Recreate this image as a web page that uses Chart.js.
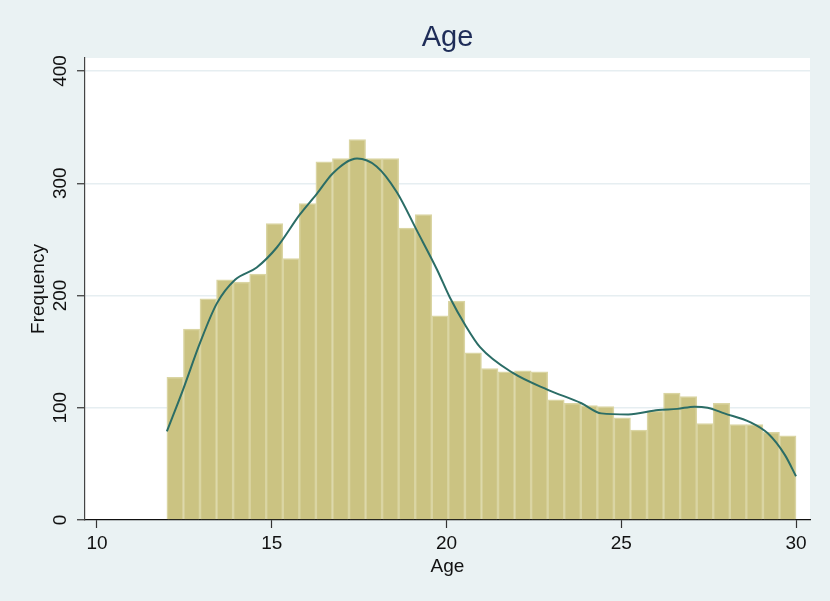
<!DOCTYPE html>
<html>
<head>
<meta charset="utf-8">
<script src="https://cdn.jsdelivr.net/npm/chart.js@4/dist/chart.umd.min.js"></script>
<style>
  html, body { margin: 0; padding: 0; background: #EAF2F3; }
  #wrap { width: 830px; height: 601px; }
</style>
</head>
<body>
<div id="wrap"><canvas id="c" width="830" height="601"></canvas></div>
<script>
// ---- data ----
const chartTitle = "Age";
const xTitle = "Age";
const yTitle = "Frequency";
const binStart = 12;
const binEnd = 30;
const binCount = 38;
const frequencies = [127,170,197,214,212,219,264,233,282,319,322,339,322,322,260,272,182,195,149,135,132,133,132,107,104,102,101,91,80,97,113,110,86,104,85,85,78,75];
const densityAge = [12.0,12.46,12.95,13.43,13.95,14.57,15.15,15.8,16.3,16.75,17.44,18.0,18.58,19.15,19.73,20.1,20.53,20.96,21.9,22.9,23.86,24.43,25.2,26.06,26.6,27.1,27.47,27.95,28.7,29.2,29.68,30.0];
const densityFreq = [79,116,158,193,214,225,243,272,291,309,322,315,292,258,223,198,174,154,131,116,104,95,94,98,99,101,100,95,87,77,58,39];
const xTicks = [10,15,20,25,30];
const yTicks = [0,100,200,300,400];

const binWidth = (binEnd - binStart) / binCount;
const barPoints = frequencies.map((v, i) => ({ x: binStart + (i + 0.5) * binWidth, y: v }));
const linePoints = densityAge.map((a, i) => ({ x: a, y: densityFreq[i] }));

const FONT = "'Liberation Sans', Arial, Helvetica, sans-serif";
const X_MIN = 9.657, X_MAX = 30.40;

const bgPlugin = {
  id: 'bg',
  beforeDraw(chart) {
    const { ctx, chartArea } = chart;
    ctx.save();
    ctx.fillStyle = '#EAF2F3';
    ctx.fillRect(0, 0, chart.width, chart.height);
    ctx.fillStyle = '#FFFFFF';
    ctx.fillRect(chartArea.left, chartArea.top, chartArea.right - chartArea.left, chartArea.bottom - chartArea.top);
    ctx.restore();
  }
};

new Chart(document.getElementById('c'), {
  type: 'bar',
  data: {
    datasets: [
      {
        type: 'line',
        data: linePoints,
        borderColor: '#2B6D66',
        borderWidth: 2,
        pointRadius: 0,
        cubicInterpolationMode: 'monotone',
        fill: false,
        order: 0
      },
      {
        type: 'bar',
        data: barPoints,
        backgroundColor: '#CBC382',
        borderColor: '#DAD5A3',
        borderWidth: 1.5,
        barPercentage: 1,
        categoryPercentage: 1,
        grouped: false,
        order: 1
      }
    ]
  },
  options: {
    responsive: false,
    animation: false,
    layout: { padding: { left: 0, right: 20, top: 0, bottom: 0 } },
    plugins: {
      legend: { display: false },
      tooltip: { enabled: false },
      title: { display: false }
    },
    scales: {
      x: {
        type: 'linear',
        offset: false,
        min: X_MIN,
        max: X_MAX,
        afterBuildTicks: (s) => { s.ticks = xTicks.map(v => ({ value: v })); },
        afterFit: (s) => { s.height = 81; },
        border: { display: true, color: '#111111', width: 1.2 },
        grid: { display: true, drawOnChartArea: false, offset: false, tickLength: 8, tickColor: '#333333', tickWidth: 1.2 },
        ticks: { color: '#111111', font: { family: FONT, size: 19 }, padding: 4, maxRotation: 0, autoSkip: false },
        title: { display: true, text: xTitle, color: '#111111', font: { family: FONT, size: 19 }, padding: { top: 0, bottom: 23 } }
      },
      xTop: {
        type: 'linear',
        position: 'top',
        offset: false,
        min: X_MIN,
        max: X_MAX,
        afterFit: (s) => { s.height = 58; },
        border: { display: false },
        grid: { display: false },
        ticks: { display: false },
        title: { display: true, text: chartTitle, color: '#1F2D58', font: { family: FONT, size: 29 }, padding: { top: 21, bottom: 0 } }
      },
      y: {
        type: 'linear',
        min: 0,
        max: 411.6,
        afterBuildTicks: (s) => { s.ticks = yTicks.map(v => ({ value: v })); },
        afterFit: (s) => { s.width = 85; },
        border: { display: true, color: '#444444', width: 1.2 },
        grid: {
          display: true,
          drawOnChartArea: true,
          tickLength: 8,
          tickColor: '#333333',
          tickWidth: 1.2,
          color: (ctx) => (ctx.tick && ctx.tick.value === 0) ? 'rgba(0,0,0,0)' : '#E6EEF1',
          lineWidth: 1.5
        },
        ticks: {
          color: '#111111',
          font: { family: FONT, size: 19 },
          minRotation: 90,
          maxRotation: 90,
          crossAlign: 'center',
          padding: 0,
          autoSkip: false
        },
        title: { display: true, text: yTitle, color: '#111111', font: { family: FONT, size: 19 }, padding: { top: 27, bottom: 0 } }
      }
    }
  },
  plugins: [bgPlugin]
});
</script>
</body>
</html>
